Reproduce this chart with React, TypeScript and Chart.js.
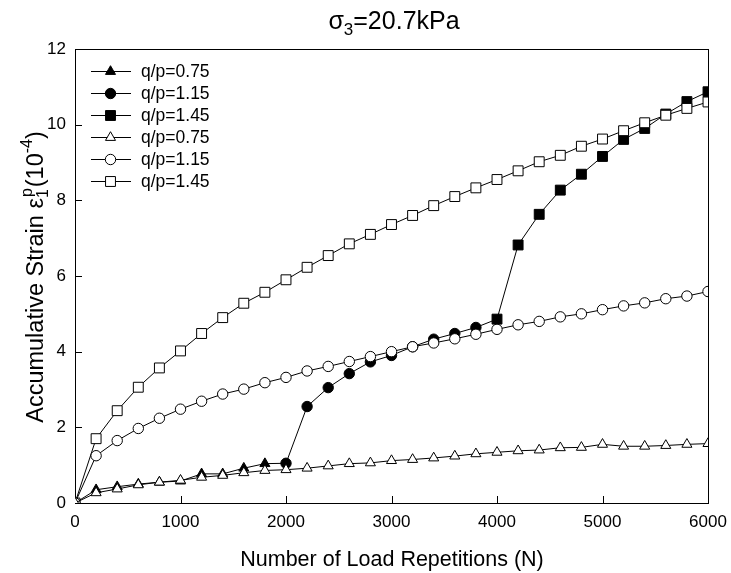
import React, { useEffect, useRef } from "react";
import { Chart, registerables } from "chart.js";
import { drawPoint } from "chart.js/helpers";

Chart.register(...registerables);

// ---- data ----
const triFilledX = [0, 200, 400, 600, 800, 1000, 1200, 1400, 1600, 1800, 2000];
const triFilledY = [0, 0.35, 0.43, 0.5, 0.55, 0.58, 0.77, 0.77, 0.92, 1.04, 1.05];
const circFilledX = [2000, 2200, 2400, 2600, 2800, 3000, 3200, 3400, 3600, 3800, 4000];
const circFilledY = [1.05, 2.55, 3.05, 3.42, 3.73, 3.9, 4.13, 4.33, 4.48, 4.64, 4.86];
const sqFilledX = [4000, 4200, 4400, 4600, 4800, 5000, 5200, 5400, 5600, 5800, 6000];
const sqFilledY = [4.86, 6.82, 7.63, 8.27, 8.69, 9.16, 9.61, 9.9, 10.28, 10.61, 10.87];

const openX = [0, 200, 400, 600, 800, 1000, 1200, 1400, 1600, 1800, 2000, 2200, 2400, 2600, 2800, 3000,
  3200, 3400, 3600, 3800, 4000, 4200, 4400, 4600, 4800, 5000, 5200, 5400, 5600, 5800, 6000];
const triOpenY = [0, 0.27, 0.37, 0.48, 0.55, 0.6, 0.68, 0.73, 0.8, 0.86, 0.88, 0.92, 0.98, 1.04, 1.06, 1.12,
  1.15, 1.19, 1.24, 1.3, 1.34, 1.38, 1.4, 1.46, 1.47, 1.55, 1.5, 1.5, 1.52, 1.55, 1.57];
const circOpenY = [0, 1.25, 1.65, 1.97, 2.24, 2.48, 2.69, 2.88, 3.01, 3.18, 3.32, 3.49, 3.61, 3.74, 3.87, 4.0,
  4.13, 4.23, 4.34, 4.46, 4.59, 4.71, 4.8, 4.92, 5.0, 5.11, 5.21, 5.29, 5.4, 5.47, 5.59];
const sqOpenY = [0, 1.7, 2.44, 3.06, 3.57, 4.02, 4.48, 4.9, 5.28, 5.57, 5.9, 6.23, 6.54, 6.85, 7.1, 7.36,
  7.6, 7.86, 8.1, 8.33, 8.55, 8.78, 9.02, 9.19, 9.43, 9.62, 9.84, 10.05, 10.25, 10.43, 10.6];

const legendLabels = ["q/p=0.75", "q/p=1.15", "q/p=1.45", "q/p=0.75", "q/p=1.15", "q/p=1.45"];
const xTicks = [0, 1000, 2000, 3000, 4000, 5000, 6000];
const yTicks = [0, 2, 4, 6, 8, 10, 12];

const FONT = "'Liberation Sans', Arial, sans-serif";

const pts = (xs: number[], ys: number[]) => xs.map((x, i) => ({ x, y: ys[i] }));

const styles = [
  { pointStyle: "triangle", radius: 5.8, fill: "#000" },
  { pointStyle: "circle", radius: 5.2, fill: "#000" },
  { pointStyle: "rect", radius: 7, fill: "#000" },
  { pointStyle: "triangle", radius: 5.8, fill: "#fff" },
  { pointStyle: "circle", radius: 5.2, fill: "#fff" },
  { pointStyle: "rect", radius: 7, fill: "#fff" },
];

function makeDataset(i: number, data: { x: number; y: number }[], hideLast: boolean) {
  const s = styles[i];
  return {
    label: legendLabels[i],
    data,
    borderColor: "#000",
    borderWidth: 1,
    backgroundColor: s.fill,
    pointStyle: s.pointStyle,
    pointRadius: data.map((_, k) => (hideLast && k === data.length - 1 ? 0 : s.radius)),
    pointBackgroundColor: s.fill,
    pointBorderColor: "#000",
    pointBorderWidth: 1,
    tension: 0,
    order: i < 3 ? 1 : 0,
  };
}

const decorPlugin = {
  id: "decor",
  beforeDatasetsDraw(chart: any) {
    const { ctx, chartArea: a, scales } = chart;
    ctx.save();
    ctx.strokeStyle = "#000";
    ctx.lineWidth = 1;
    ctx.strokeRect(Math.round(a.left) + 0.5, Math.round(a.top) + 0.5, Math.round(a.right - a.left), Math.round(a.bottom - a.top));
    ctx.beginPath();
    for (const v of yTicks) {
      const y = Math.round(scales.y.getPixelForValue(v)) + 0.5;
      ctx.moveTo(a.left, y);
      ctx.lineTo(a.left + 7, y);
    }
    for (const v of xTicks) {
      const x = Math.round(scales.x.getPixelForValue(v)) + 0.5;
      ctx.moveTo(x, a.bottom);
      ctx.lineTo(x, a.bottom - 7);
    }
    ctx.stroke();
    ctx.restore();
  },
  afterDraw(chart: any) {
    const { ctx, chartArea: a } = chart;
    ctx.save();
    ctx.fillStyle = "#000";
    ctx.textBaseline = "alphabetic";
    ctx.textAlign = "left";

    // title: σ3=20.7kPa
    const tBig = `25px ${FONT}`;
    const tSmall = `17px ${FONT}`;
    ctx.font = tBig;
    const wS = ctx.measureText("σ").width;
    const wR = ctx.measureText("=20.7kPa").width;
    ctx.font = tSmall;
    const w3 = ctx.measureText("3").width;
    const tw = wS + w3 + wR;
    let tx = 394 - tw / 2;
    const ty = 29;
    ctx.font = tBig;
    ctx.fillText("σ", tx, ty);
    tx += wS;
    ctx.font = tSmall;
    ctx.fillText("3", tx, ty + 6);
    tx += w3;
    ctx.font = tBig;
    ctx.fillText("=20.7kPa", tx, ty);

    // x title
    ctx.font = `21.5px ${FONT}`;
    ctx.textAlign = "center";
    ctx.fillText("Number of Load Repetitions (N)", 392, 566);

    // y title (rotated)
    const big = `23.5px ${FONT}`;
    const small = `16px ${FONT}`;
    ctx.save();
    ctx.translate(43, 277);
    ctx.rotate(-Math.PI / 2);
    ctx.textAlign = "left";
    ctx.font = big;
    const w1 = ctx.measureText("Accumulative Strain ε").width;
    ctx.font = small;
    const wSub = ctx.measureText("1").width;
    const wSup = ctx.measureText("p").width;
    ctx.font = big;
    const w2 = ctx.measureText("(10").width;
    ctx.font = small;
    const w4 = ctx.measureText("-4").width;
    ctx.font = big;
    const w5 = ctx.measureText(")").width;
    const total = w1 + Math.max(wSub, wSup + 1) + 1 + w2 + w4 + w5;
    let lx = -total / 2;
    ctx.font = big;
    ctx.fillText("Accumulative Strain ε", lx, 0);
    lx += w1;
    ctx.font = small;
    ctx.fillText("1", lx, 5);
    ctx.fillText("p", lx + 1, -11);
    lx += Math.max(wSub, wSup + 1) + 1;
    ctx.font = big;
    ctx.fillText("(10", lx, 0);
    lx += w2;
    ctx.font = small;
    ctx.fillText("-4", lx, -11);
    lx += w4;
    ctx.font = big;
    ctx.fillText(")", lx, 0);
    ctx.restore();

    // legend
    const rows = [70.7, 92.7, 115, 136.7, 159, 181];
    ctx.font = `17.5px ${FONT}`;
    ctx.textAlign = "left";
    ctx.textBaseline = "middle";
    rows.forEach((ry, i) => {
      const s = styles[i];
      const y = Math.round(ry) + 0.5;
      ctx.strokeStyle = "#000";
      ctx.lineWidth = 1;
      ctx.beginPath();
      ctx.moveTo(91, y);
      ctx.lineTo(131, y);
      ctx.stroke();
      ctx.fillStyle = s.fill;
      ctx.strokeStyle = "#000";
      drawPoint(ctx, { pointStyle: s.pointStyle, radius: s.radius, borderWidth: 1, rotation: 0 } as any, 110.5, y);
      ctx.fillStyle = "#000";
      ctx.fillText(legendLabels[i], 141, y + 1);
    });
    ctx.restore();
  },
};

export default function App() {
  const ref = useRef<HTMLCanvasElement | null>(null);
  useEffect(() => {
    document.body.style.margin = "0";
    const canvas = ref.current!;
    const chart = new Chart(canvas, {
      type: "line",
      data: {
        datasets: [
          makeDataset(0, pts(triFilledX, triFilledY), true),
          makeDataset(1, pts(circFilledX, circFilledY), true),
          makeDataset(2, pts(sqFilledX, sqFilledY), false),
          makeDataset(3, pts(openX, triOpenY), false),
          makeDataset(4, pts(openX, circOpenY), false),
          makeDataset(5, pts(openX, sqOpenY), false),
        ] as any,
      },
      options: {
        animation: false,
        responsive: false,
        devicePixelRatio: 1,
        layout: { padding: { top: 49, right: 23, left: 0, bottom: 0 } },
        plugins: { legend: { display: false }, title: { display: false }, tooltip: { enabled: false } },
        scales: {
          x: {
            type: "linear",
            min: 0,
            max: 6000,
            afterBuildTicks: (s: any) => { s.ticks = xTicks.map((v) => ({ value: v })); },
            afterFit: (s: any) => { s.height = 70; s.paddingLeft = 0; s.paddingRight = 0; },
            grid: { display: false, drawTicks: false },
            border: { display: false },
            ticks: { color: "#000", font: { family: FONT, size: 17 }, padding: 9, maxRotation: 0, callback: (v: any) => String(v) },
          },
          y: {
            type: "linear",
            min: 0,
            max: 12,
            afterBuildTicks: (s: any) => { s.ticks = yTicks.map((v) => ({ value: v })); },
            afterFit: (s: any) => { s.width = 75; s.paddingTop = 0; s.paddingBottom = 0; },
            grid: { display: false, drawTicks: false },
            border: { display: false },
            ticks: { color: "#000", font: { family: FONT, size: 17 }, padding: 9, callback: (v: any) => String(v) },
          },
        },
      } as any,
      plugins: [decorPlugin],
    });
    return () => chart.destroy();
  }, []);
  return (
    <div style={{ width: 731, height: 573, background: "#fff" }}>
      <canvas ref={ref} width={731} height={573} style={{ display: "block" }} />
    </div>
  );
}
